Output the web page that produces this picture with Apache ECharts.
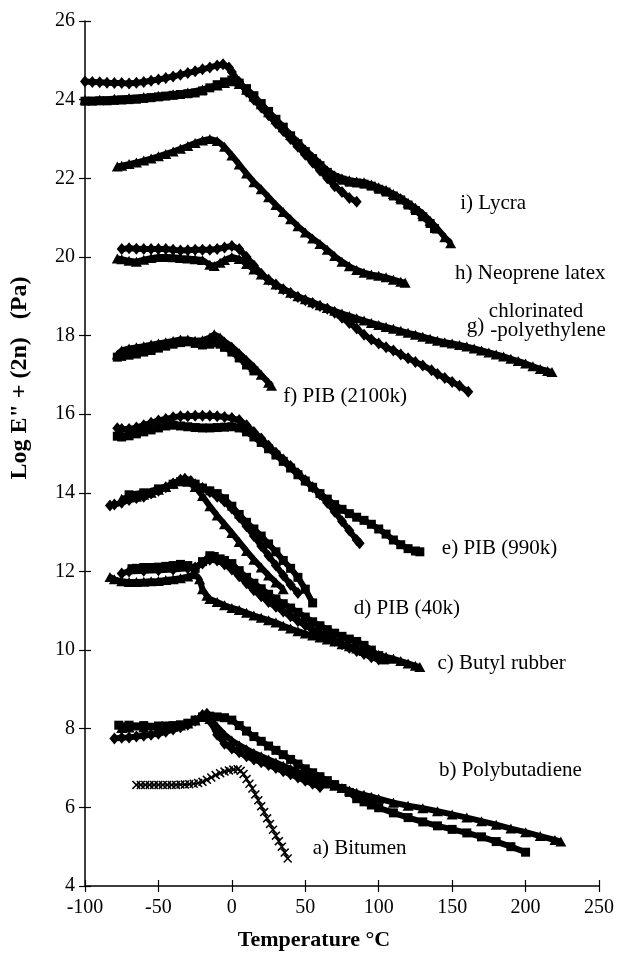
<!DOCTYPE html>
<html><head><meta charset="utf-8">
<script src="https://cdn.jsdelivr.net/npm/echarts@6/dist/echarts.min.js"></script>
<style>html,body{margin:0;padding:0;background:#fff}#c{width:617px;height:968px}</style>
</head><body><div id="c"></div>
<script>
// ---- tick settings ----
const xTicks = {min:-100, max:250, step:50};
const yTicks = {min:4, max:26, step:2};

// ---- series data [temperature, log E'' + 2n] ----
const lycraD = [[-100,24.46],[-95,24.45],[-90,24.44],[-85,24.43],[-80,24.42],[-75,24.42],[-70,24.41],[-65,24.43],[-60,24.45],[-55,24.48],[-50,24.51],[-45,24.55],[-40,24.59],[-35,24.63],[-30,24.68],[-25,24.72],[-20,24.77],[-15,24.82],[-10,24.87],[-6,24.9],[-2,24.82],[0,24.7],[5,24.45],[10,24.2],[15,24.0],[20,23.8],[25,23.6],[30,23.4],[35,23.2],[40,23.0],[45,22.8],[50,22.6],[55,22.4],[60,22.2],[65,22.0],[70,21.8],[75,21.65],[80,21.5],[85,21.4]];
const lycraS = [[-100,23.96],[-95,23.96],[-90,23.97],[-85,23.97],[-80,23.98],[-75,23.99],[-70,24.0],[-65,24.01],[-60,24.03],[-55,24.05],[-50,24.07],[-45,24.09],[-40,24.11],[-35,24.13],[-30,24.15],[-25,24.17],[-20,24.22],[-15,24.3],[-10,24.38],[-5,24.45],[0,24.5],[5,24.42],[10,24.28],[15,24.1],[20,23.9],[25,23.7],[30,23.5],[35,23.3],[40,23.08],[45,22.88],[50,22.68],[55,22.5],[60,22.32],[65,22.15],[70,22.02],[75,21.95],[80,21.9],[85,21.88],[90,21.85],[95,21.8],[100,21.72],[105,21.65],[110,21.55],[115,21.45],[120,21.32],[125,21.18],[130,21.02],[135,20.85],[138,20.72]];
const lycraT = [[-100,24.0],[-90,24.0],[-80,24.02],[-70,24.04],[-60,24.07],[-50,24.1],[-40,24.14],[-30,24.18],[-20,24.26],[-10,24.36],[-5,24.42],[0,24.47],[5,24.4],[10,24.25],[15,24.08],[20,23.88],[25,23.68],[30,23.5],[35,23.3],[40,23.1],[45,22.92],[50,22.73],[55,22.55],[60,22.38],[65,22.2],[70,22.08],[75,22.0],[80,21.95],[85,21.92],[90,21.9],[95,21.84],[100,21.77],[105,21.7],[110,21.6],[115,21.5],[120,21.38],[125,21.25],[130,21.1],[135,20.92],[140,20.72],[145,20.5],[149,20.35]];
const neopreneT = [[-78,22.3],[-75,22.32],[-70,22.36],[-65,22.4],[-60,22.45],[-55,22.5],[-50,22.56],[-45,22.62],[-40,22.68],[-35,22.75],[-30,22.82],[-25,22.9],[-20,22.96],[-15,23.0],[-10,22.95],[-5,22.8],[0,22.58],[5,22.35],[10,22.12],[15,21.9],[20,21.72],[25,21.52],[30,21.32],[35,21.14],[40,20.96],[45,20.78],[50,20.62],[55,20.47],[60,20.33],[65,20.18],[70,20.02],[75,19.88],[80,19.76],[85,19.67],[90,19.6],[95,19.55],[100,19.52],[105,19.48],[110,19.42],[115,19.37],[118,19.34]];
const cpeD = [[-75,20.2],[-70,20.22],[-65,20.21],[-60,20.2],[-55,20.2],[-50,20.2],[-45,20.2],[-40,20.18],[-35,20.16],[-30,20.17],[-25,20.18],[-20,20.18],[-15,20.18],[-10,20.2],[-5,20.24],[0,20.28],[5,20.2],[10,20.0],[15,19.78],[20,19.57],[25,19.42],[30,19.3],[35,19.18],[40,19.08],[45,18.98],[50,18.9],[55,18.82],[60,18.75],[65,18.68],[70,18.58],[75,18.45],[80,18.32],[85,18.18],[90,18.02],[95,17.9],[100,17.8],[105,17.7],[110,17.62],[115,17.52],[120,17.42],[125,17.33],[130,17.24],[136,17.12],[140,17.02],[145,16.92],[150,16.82],[155,16.72],[161,16.57]];
const cpeT = [[-78,19.96],[-75,19.94],[-70,19.9],[-65,19.88],[-60,19.93],[-55,19.97],[-50,20.0],[-45,20.0],[-40,19.99],[-35,19.97],[-30,19.96],[-25,19.94],[-20,19.92],[-15,19.8],[-12,19.77],[-8,19.85],[-5,19.92],[0,20.0],[5,19.95],[10,19.82],[15,19.68],[20,19.55],[25,19.42],[30,19.3],[35,19.19],[40,19.09],[45,19.0],[50,18.92],[55,18.85],[60,18.77],[65,18.7],[70,18.63],[75,18.56],[80,18.5],[85,18.44],[90,18.38],[95,18.32],[100,18.27],[105,18.22],[110,18.17],[115,18.12],[120,18.07],[125,18.02],[130,17.97],[135,17.92],[140,17.87],[145,17.83],[150,17.8],[155,17.76],[160,17.72],[165,17.67],[170,17.62],[175,17.57],[180,17.52],[185,17.47],[190,17.41],[195,17.35],[200,17.29],[205,17.22],[210,17.15],[215,17.1],[218,17.07]];
const pib2100T = [[-78,17.52],[-75,17.62],[-70,17.67],[-65,17.7],[-60,17.73],[-55,17.77],[-50,17.8],[-45,17.83],[-40,17.86],[-35,17.9],[-30,17.9],[-25,17.87],[-20,17.88],[-15,17.95],[-12,18.03],[-8,17.95],[-5,17.85],[0,17.72],[5,17.55],[10,17.38],[15,17.2],[20,17.0],[25,16.8],[27,16.72]];
const pib2100S = [[-78,17.45],[-75,17.47],[-70,17.5],[-65,17.53],[-60,17.58],[-55,17.62],[-50,17.68],[-45,17.73],[-40,17.78],[-35,17.82],[-30,17.84],[-25,17.8],[-20,17.76],[-15,17.78],[-12,17.82],[-8,17.78],[-5,17.7],[0,17.58],[5,17.43],[10,17.25],[15,17.1]];
const pib990D = [[-78,15.64],[-75,15.62],[-70,15.62],[-65,15.66],[-60,15.72],[-55,15.78],[-50,15.84],[-45,15.88],[-40,15.92],[-35,15.95],[-30,15.95],[-25,15.96],[-20,15.96],[-15,15.96],[-10,15.95],[-5,15.93],[0,15.9],[5,15.85],[10,15.72],[15,15.55],[20,15.38],[25,15.2],[30,15.02],[35,14.85],[40,14.68],[45,14.5],[50,14.32],[55,14.14],[60,13.96],[65,13.75],[70,13.52],[75,13.28],[80,13.04],[85,12.8],[87,12.72]];
const pib990S = [[-78,15.44],[-75,15.42],[-70,15.45],[-65,15.5],[-60,15.55],[-55,15.6],[-50,15.65],[-45,15.7],[-40,15.72],[-35,15.7],[-30,15.68],[-25,15.66],[-20,15.65],[-15,15.65],[-10,15.66],[-5,15.67],[0,15.68],[5,15.65],[10,15.55],[15,15.42],[20,15.28],[25,15.12],[30,14.96],[35,14.8],[40,14.63],[45,14.46],[50,14.3],[55,14.14],[60,13.98],[65,13.84],[70,13.7],[75,13.58],[80,13.47],[85,13.38],[90,13.3],[95,13.2],[100,13.08],[105,12.95],[110,12.8],[115,12.68],[120,12.58],[125,12.52],[128,12.5]];
const pib40D = [[-83,13.68],[-80,13.7],[-75,13.75],[-70,13.82],[-65,13.87],[-60,13.9],[-55,13.98],[-50,14.05],[-45,14.14],[-40,14.24],[-35,14.33],[-32,14.36],[-28,14.3],[-25,14.22],[-20,14.12],[-15,14.02],[-10,13.9],[-5,13.78],[0,13.6],[5,13.38],[10,13.15],[15,12.9],[20,12.65],[25,12.4],[30,12.15],[35,11.9],[40,11.66],[45,11.45]];
const pib40T = [[-75,13.85],[-70,13.88],[-65,13.9],[-60,13.95],[-55,14.0],[-50,14.08],[-45,14.15],[-40,14.23],[-35,14.3],[-30,14.28],[-25,14.15],[-20,13.92],[-15,13.66],[-10,13.42],[-5,13.2],[0,12.98],[5,12.75],[10,12.52],[15,12.3],[20,12.1],[25,11.9],[30,11.72],[35,11.55]];
const pib40S = [[-70,13.95],[-60,14.0],[-50,14.1],[-40,14.22],[-35,14.28],[-30,14.3],[-25,14.22],[-20,14.12],[-15,14.05],[-10,13.98],[-5,13.85],[0,13.66],[5,13.45],[10,13.25],[15,13.08],[20,12.9],[25,12.7],[30,12.5],[35,12.28],[40,12.08],[45,11.85],[50,11.55],[55,11.2]];
const butylT = [[-83,11.86],[-80,11.8],[-75,11.75],[-70,11.73],[-65,11.73],[-60,11.74],[-55,11.75],[-50,11.76],[-45,11.78],[-40,11.8],[-35,11.83],[-30,11.87],[-25,11.93],[-22,11.8],[-20,11.55],[-17,11.38],[-15,11.3],[-10,11.22],[-5,11.14],[0,11.07],[5,11.02],[10,10.95],[15,10.88],[20,10.82],[25,10.76],[30,10.7],[35,10.62],[40,10.55],[45,10.48],[50,10.42],[55,10.37],[60,10.32],[65,10.27],[70,10.22],[75,10.15],[80,10.1],[85,10.04],[90,9.98],[95,9.93],[100,9.88],[105,9.83],[110,9.78],[115,9.72],[120,9.66],[125,9.6],[128,9.57]];
const butylS = [[-68,12.07],[-65,12.08],[-60,12.1],[-55,12.1],[-50,12.11],[-45,12.13],[-40,12.15],[-35,12.18],[-30,12.15],[-25,12.08],[-20,12.25],[-15,12.4],[-12,12.38],[-8,12.32],[-5,12.28],[0,12.2],[5,12.02],[10,11.85],[15,11.7],[20,11.56],[25,11.42],[30,11.3],[35,11.18],[40,11.07],[45,10.96],[50,10.84],[55,10.72],[60,10.62],[65,10.52],[70,10.43],[75,10.35],[80,10.28],[85,10.22],[90,10.12],[95,10.0],[100,9.86],[104,9.75]];
const butylD = [[-75,11.95],[-70,12.0],[-60,12.02],[-50,12.03],[-40,12.05],[-30,12.08],[-25,12.1],[-20,12.2],[-15,12.3],[-10,12.28],[-5,12.18],[0,12.05],[5,11.88],[10,11.7],[15,11.52],[20,11.37],[25,11.22],[30,11.1],[35,10.98],[40,10.86],[45,10.74],[50,10.63],[55,10.52],[60,10.42],[65,10.33],[70,10.24],[75,10.15],[80,10.06],[85,9.98],[90,9.9],[95,9.82],[100,9.76]];
const pbdS = [[-77,8.09],[-70,8.09],[-60,8.08],[-50,8.07],[-45,8.07],[-40,8.08],[-35,8.1],[-30,8.14],[-25,8.22],[-20,8.3],[-15,8.32],[-10,8.3],[-5,8.28],[0,8.22],[5,8.08],[10,7.94],[15,7.8],[20,7.68],[25,7.56],[30,7.45],[35,7.34],[40,7.22],[45,7.1],[50,6.98],[55,6.88],[60,6.78],[65,6.68],[70,6.58],[75,6.48],[80,6.38],[85,6.22],[90,6.14],[95,6.06],[100,5.99],[110,5.86],[120,5.74],[130,5.63],[140,5.53],[150,5.44],[160,5.35],[170,5.25],[180,5.13],[190,5.0],[200,4.86]];
const pbdD = [[-80,7.75],[-75,7.77],[-70,7.78],[-65,7.8],[-60,7.82],[-55,7.85],[-50,7.87],[-45,7.92],[-40,7.98],[-35,8.04],[-30,8.1],[-25,8.2],[-20,8.35],[-17,8.38],[-14,8.15],[-10,7.85],[-5,7.62],[0,7.5],[5,7.4],[10,7.3],[15,7.22],[20,7.15],[25,7.08],[30,7.0],[35,6.92],[40,6.84],[45,6.76],[50,6.68],[55,6.6],[60,6.52]];
const pbdT = [[-75,8.02],[-70,8.03],[-60,8.03],[-50,8.03],[-40,8.05],[-35,8.08],[-30,8.13],[-25,8.21],[-20,8.3],[-18,8.35],[-15,8.25],[-10,8.05],[-5,7.85],[0,7.7],[5,7.58],[10,7.48],[15,7.38],[20,7.3],[25,7.22],[30,7.14],[35,7.06],[40,6.98],[45,6.9],[50,6.82],[55,6.75],[60,6.68],[65,6.61],[70,6.55],[75,6.49],[80,6.43],[85,6.37],[90,6.32],[95,6.27],[100,6.22],[110,6.12],[120,6.04],[130,5.98],[140,5.9],[150,5.82],[160,5.74],[170,5.65],[180,5.56],[190,5.46],[200,5.37],[210,5.27],[220,5.17],[224,5.13]];
const bitumenX = [[-65,6.57],[-62,6.57],[-59,6.57],[-56,6.57],[-53,6.57],[-50,6.57],[-47,6.57],[-44,6.57],[-41,6.57],[-38,6.57],[-35,6.58],[-32,6.58],[-29,6.59],[-26,6.6],[-23,6.62],[-20,6.65],[-17,6.7],[-14,6.76],[-11,6.82],[-8,6.87],[-5,6.91],[-2,6.94],[1,6.96],[4,6.97],[6,6.93],[8,6.85],[10,6.72],[12,6.6],[14,6.48],[16,6.33],[18,6.18],[20,6.03],[22,5.88],[24,5.72],[26,5.58],[28,5.43],[30,5.28],[32,5.14],[34,5.0],[36,4.85],[38,4.7]];

// ---- curve annotations ----
const labelText = ['i) Lycra','h) Neoprene latex','chlorinated','g)','-polyethylene','f) PIB (2100k)','e) PIB (990k)','d) PIB (40k)','c) Butyl rubber','b) Polybutadiene','a) Bitumen'];
const labelX = [155.5,152,175,160,176,35,143,83,140,141,55];
const labelY = [21.36,19.58,18.6,18.22,18.14,16.44,12.58,11.05,9.66,6.94,4.95];

const SERIF = "'Liberation Serif','Times New Roman',serif";
const XSYM = 'path://M0,1.2L1.2,0L5,3.8L8.8,0L10,1.2L6.2,5L10,8.8L8.8,10L5,6.2L1.2,10L0,8.8L3.8,5Z';
const symDef = {D:['diamond',[10,12]], S:['rect',9], T:['triangle',[11,10]], X:[XSYM,9]};

const curves = [
  [lycraD,'D'],[lycraS,'S'],[lycraT,'T'],[neopreneT,'T'],[cpeD,'D'],[cpeT,'T'],
  [pib2100T,'T'],[pib2100S,'S'],[pib990D,'D'],[pib990S,'S'],
  [pib40D,'D'],[pib40T,'T'],[pib40S,'S'],[butylT,'T'],[butylS,'S'],[butylD,'D'],
  [pbdS,'S'],[pbdD,'D'],[pbdT,'T'],[bitumenX,'X']
];

const series = curves.map(([d,k]) => ({
  type:'line', data:d, xAxisIndex:0, yAxisIndex:0,
  symbol:symDef[k][0], symbolSize:symDef[k][1], showSymbol:true,
  lineStyle:{color:'#000', width:k==='X'?1.5:6},
  itemStyle:{color:'#000', opacity:1}, silent:true, animation:false
}));

series.push({
  type:'scatter', xAxisIndex:0, yAxisIndex:0, symbolSize:0, silent:true, animation:false,
  itemStyle:{opacity:1},
  data: labelText.map((t,i)=>({value:[labelX[i],labelY[i]], name:t})),
  label:{show:true, position:'right', distance:0, formatter:p=>p.name, opacity:1,
    color:'#000', fontFamily:SERIF, fontSize:21}
});

const axisCommon = {
  type:'value', splitLine:{show:false},
  axisLine:{show:true, onZero:false, lineStyle:{color:'#000', width:1.5}},
};

const chart = echarts.init(document.getElementById('c'), null, {renderer:'canvas'});
chart.setOption({
  backgroundColor:'#fff',
  animation:false,
  grid:{left:85, right:16, top:21, bottom:82, containLabel:false},
  xAxis:[
    Object.assign({}, axisCommon, {position:'bottom', min:xTicks.min, max:xTicks.max, interval:xTicks.step,
      axisTick:{show:true, inside:false, length:6, lineStyle:{color:'#000', width:1.2}},
      axisLabel:{color:'#000', fontFamily:SERIF, fontSize:20, margin:12}}),
    Object.assign({}, axisCommon, {position:'bottom', min:xTicks.min, max:xTicks.max, interval:xTicks.step,
      axisLine:{show:false, onZero:false},
      axisTick:{show:true, inside:true, length:6, lineStyle:{color:'#000', width:1.2}},
      axisLabel:{show:false}})
  ],
  yAxis:[
    Object.assign({}, axisCommon, {position:'left', min:yTicks.min, max:yTicks.max, interval:yTicks.step,
      axisTick:{show:true, inside:false, length:6, lineStyle:{color:'#000', width:1.2}},
      axisLabel:{color:'#000', fontFamily:SERIF, fontSize:20, margin:10}}),
    Object.assign({}, axisCommon, {position:'left', min:yTicks.min, max:yTicks.max, interval:yTicks.step,
      axisLine:{show:false, onZero:false},
      axisTick:{show:true, inside:true, length:6, lineStyle:{color:'#000', width:1.2}},
      axisLabel:{show:false}})
  ],
  graphic:[
    {type:'text', position:[314,940],
      style:{text:'Temperature \u00B0C', fill:'#000', textAlign:'center', textVerticalAlign:'middle',
      font:"bold 22px 'Liberation Serif','Times New Roman',serif"}},
    {type:'text', rotation:Math.PI/2, position:[20,378],
      style:{text:'Log E" + (2n)   (Pa)', fill:'#000', textAlign:'center', textVerticalAlign:'middle',
      font:"bold 24px 'Liberation Serif','Times New Roman',serif"}}
  ],
  series:series
});
</script>
</body></html>
